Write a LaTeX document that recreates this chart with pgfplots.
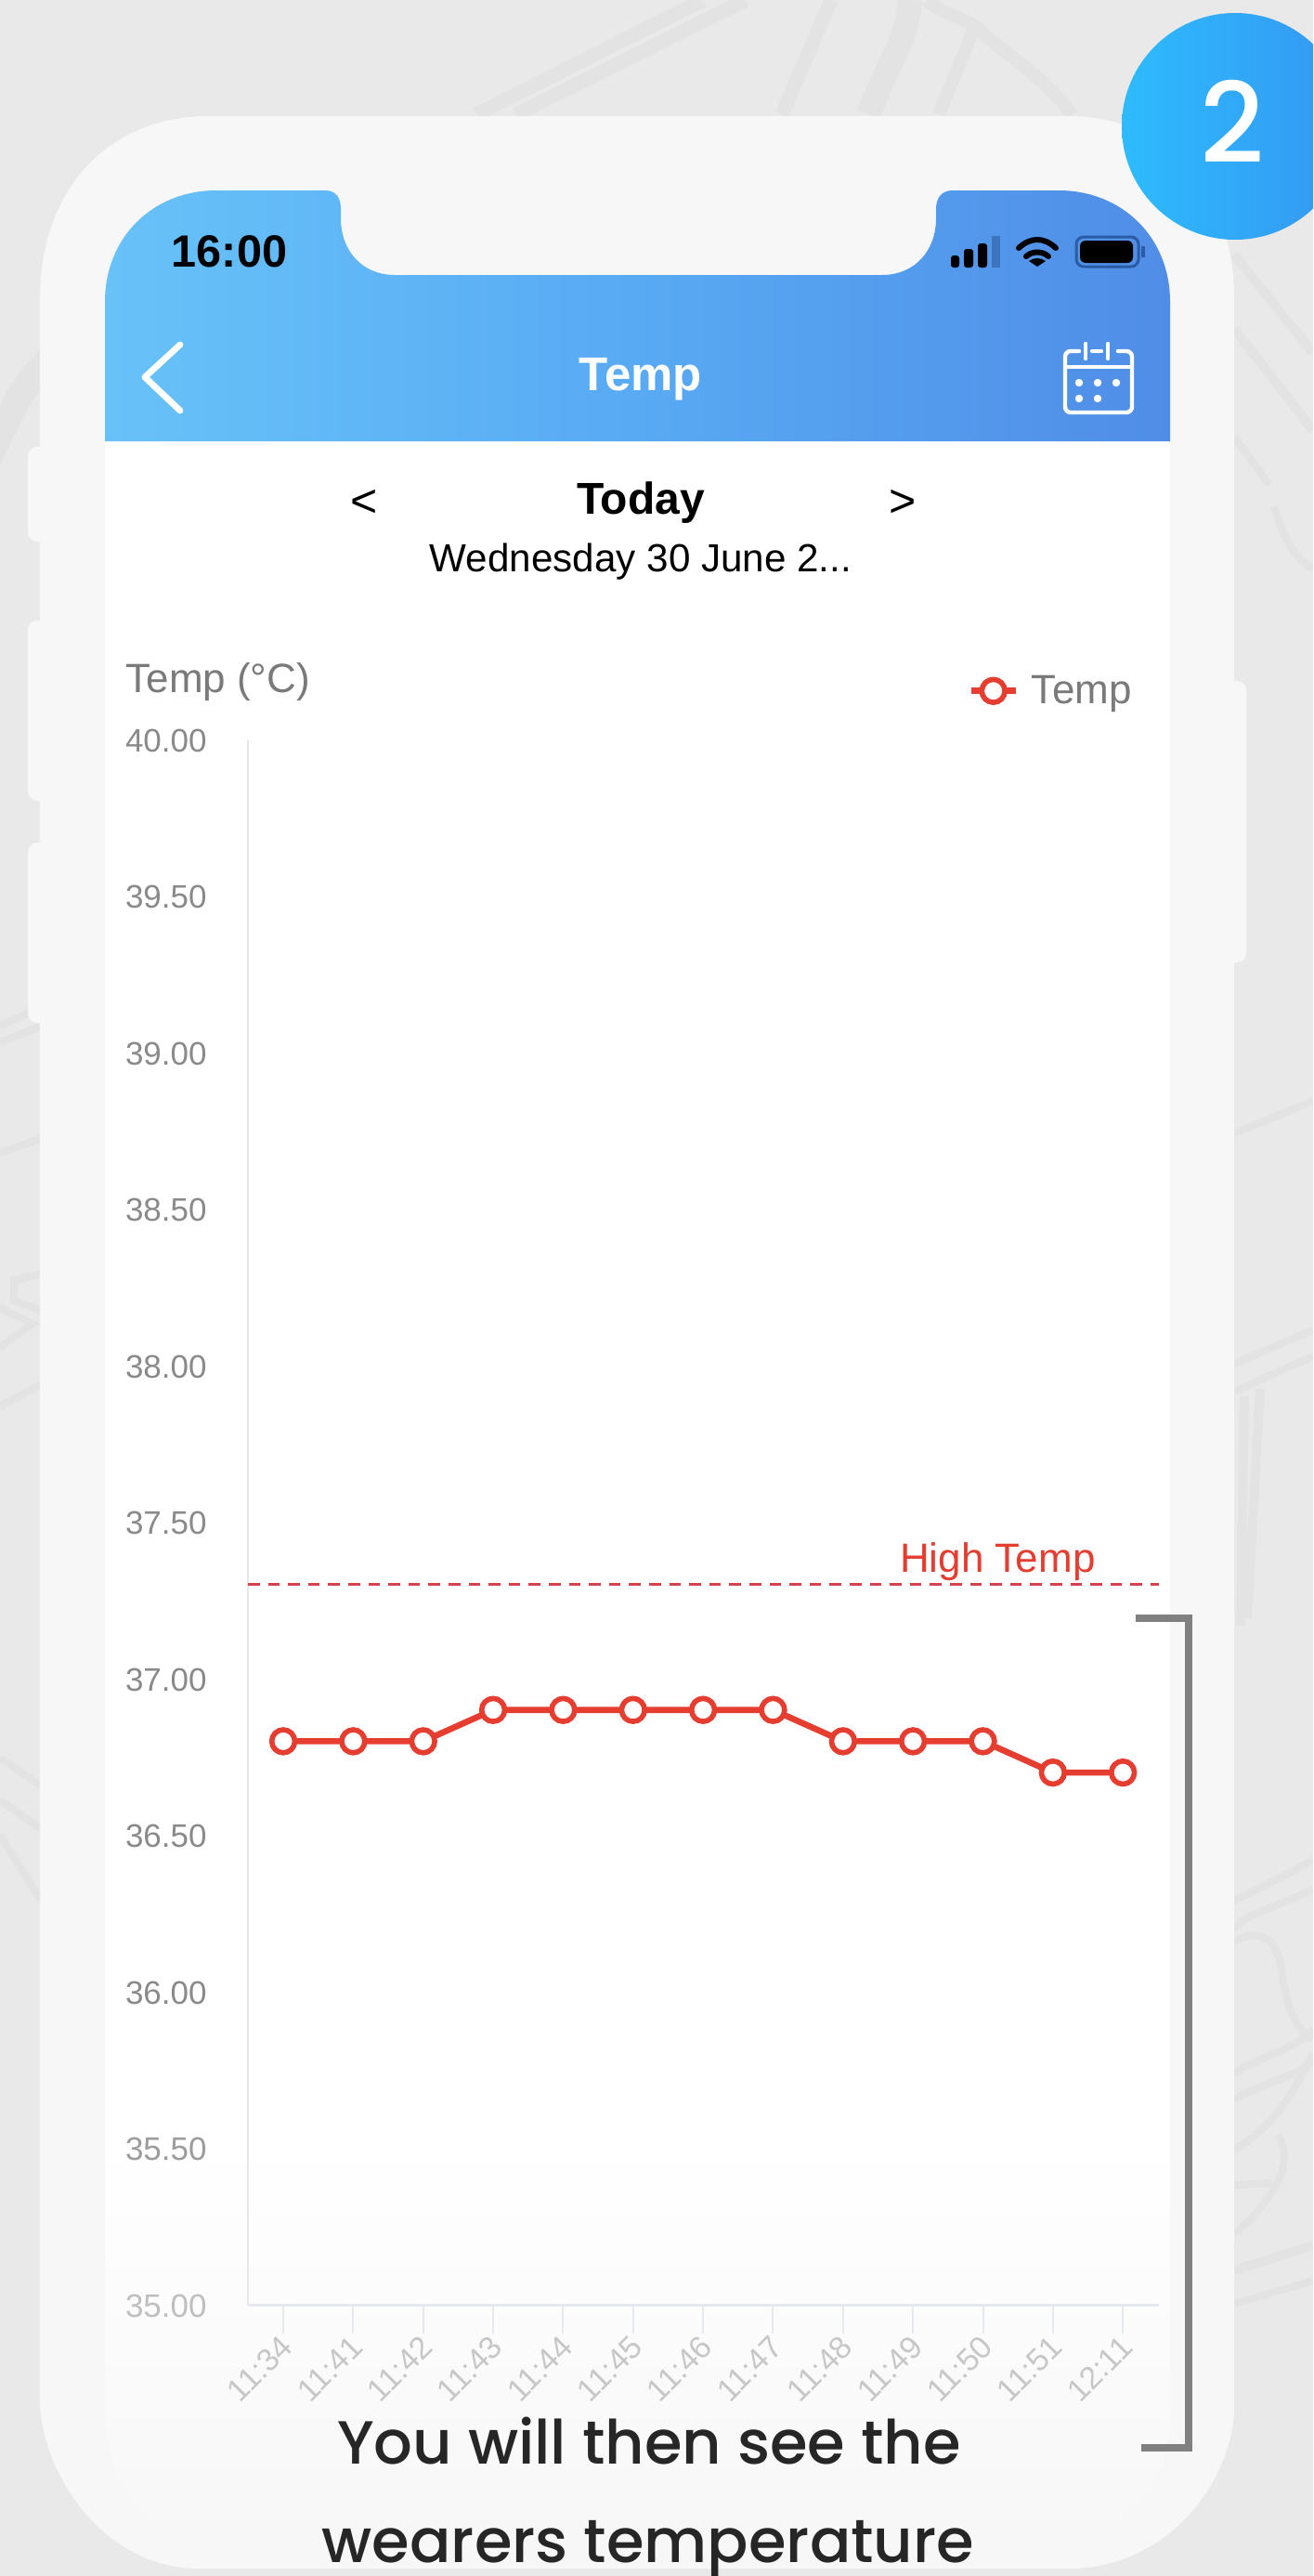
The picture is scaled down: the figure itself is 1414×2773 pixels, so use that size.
\documentclass[border=0pt]{standalone}
\usepackage{fontspec}
\setmainfont{Liberation Sans}
\newfontfamily\pop{Poppins Medium}
\usepackage{pgfplots}
\pgfplotsset{compat=1.18}
\definecolor{bg}{HTML}{E9E9E9}
\definecolor{sk}{HTML}{E3E3E3}
\definecolor{ph}{HTML}{F7F7F7}
\definecolor{rd}{HTML}{E53D30}
\definecolor{tk}{HTML}{E7E9F1}
\definecolor{lb}{HTML}{8A8A8A}
\definecolor{hl}{HTML}{68C2F8}
\definecolor{hm}{HTML}{58AAF3}
\definecolor{hr}{HTML}{508DE7}
\definecolor{bl}{HTML}{2EBBFD}
\definecolor{br}{HTML}{3497F2}
\definecolor{sf}{HTML}{3E74BE}
\definecolor{bt}{HTML}{2A5CA5}
\definecolor{dl}{HTML}{D5424E}
\newcommand{\fs}[1]{\fontsize{#1}{#1}\selectfont}
\begin{document}
\begin{tikzpicture}[x=0.5pt,y=-0.5pt]
\useasboundingbox (0,0) rectangle (1414,2773);
\clip (0,0) rectangle (1414,2773);
\fill[bg] (0,0) rectangle (1414,2773);
% sketch behind the phone
\begin{scope}[sk,line width=4pt]
\draw[line width=7.5pt] (513,123)--(757,0);\draw[line width=7.5pt] (556,123)--(803,0);
\draw[line width=7.5pt] (842,123)--(895,0);
\draw[line width=13pt] (935,123) .. controls (960,60) and (978,40) .. (980,0);
\draw[line width=7pt] (998,0) .. controls (1020,20) and (1040,15) .. (1063,40) .. controls (1100,70) and (1130,90) .. (1155,124);
\draw[line width=7pt] (1011,123)--(1048,33);
\fill (43,377) .. controls (20,400) and (5,420) .. (0,440) -- (0,487) .. controls (10,465) and (30,440) .. (43,420) -- cycle;
\fill (0,460) .. controls (20,440) and (40,420) .. (43,400) -- (43,410) .. controls (30,440) and (10,480) .. (0,500) -- cycle;
\draw[line width=5pt] (1329,274)--(1414,380);\draw[line width=5pt] (1329,354)--(1414,463);
\draw (1329,470)--(1367,522);\draw (1372,545) .. controls (1385,590) and (1400,605) .. (1414,612);
\draw (0,1104)--(43,1085);\draw (0,1122)--(43,1105);\draw (0,1241)--(43,1226);
\draw (43,1372)--(15,1378)--(15,1400)--(43,1410);\draw (0,1408)--(35,1425)--(0,1450);
\draw (0,1514)--(43,1491);
\draw (0,1892)--(43,1922);\draw (0,1938)--(43,1968);\draw (0,1976)--(43,2044);
\draw (1329,1220)--(1414,1185);\draw (1329,1468)--(1414,1432);\draw (1329,1498)--(1414,1460);
\draw[line width=5pt] (1340,1503)--(1336,1750);\draw[line width=5pt] (1357,1495)--(1343,1742);
\draw (1329,2046)--(1385,2018)--(1414,2002);
\draw (1329,2076)--(1342,2065)--(1414,2034);
\draw (1329,2090) .. controls (1350,2078) and (1372,2080) .. (1379,2114) .. controls (1385,2160) and (1395,2185) .. (1414,2195);
\draw (1329,2233) .. controls (1342,2218) and (1390,2210) .. (1414,2185);
\draw (1329,2260) .. controls (1362,2241) and (1399,2235) .. (1414,2218);
\draw (1329,2314) .. controls (1372,2290) and (1395,2250) .. (1414,2210);
\draw (1376,2298) .. controls (1395,2329) and (1372,2360) .. (1346,2390) -- (1329,2405);
\draw (1329,2352)--(1369,2350);
\draw[line width=5pt] (1329,2444)--(1414,2417);
\draw (1329,2480)--(1414,2455);
\end{scope}
% phone body and buttons
\begin{scope}[ph]
\fill[rounded corners=5pt] (30,481) rectangle (60,583);
\fill[rounded corners=5pt] (30,668) rectangle (60,862);
\fill[rounded corners=5pt] (30,907) rectangle (60,1101);
\fill[rounded corners=5pt] (1310,733) rectangle (1342,1036);
\fill (43,320) .. controls (43,212) and (110,125) .. (225,125) -- (1150,125)
 .. controls (1262,125) and (1329,212) .. (1329,320) -- (1329,2590)
 .. controls (1329,2665) and (1262,2765) .. (1150,2765) -- (215,2765)
 .. controls (110,2765) and (43,2660) .. (43,2582) -- cycle;
\end{scope}
% screen
\fill[white] (113,470) rectangle (1260,2300);
\shade[top color=white,bottom color=ph] (113,2300) -- (1260,2300) -- (1260,2600) .. controls (1260,2680) and (1200,2740) .. (1120,2740) -- (250,2740) .. controls (170,2740) and (113,2680) .. (113,2600) -- cycle;
\shade[left color=hl,right color=hr,middle color=hm]
 (113,475) -- (113,325) .. controls (113,255) and (165,205) .. (233,205) -- (350,205)
 .. controls (362,205) and (367,213) .. (367,225) -- (367,235) .. controls (367,270) and (390,296) .. (425,296)
 -- (950,296) .. controls (985,296) and (1008,270) .. (1008,235) -- (1008,225)
 .. controls (1008,213) and (1014,205) .. (1026,205) -- (1140,205)
 .. controls (1208,205) and (1260,255) .. (1260,325) -- (1260,475) -- cycle;
% status bar
\node[black,font=\bfseries\fs{24.3}] at (247,271) {16:00};
\fill[black,rounded corners=1.5pt] (1024,275) rectangle (1033,288);
\fill[black,rounded corners=1.5pt] (1038,268) rectangle (1048,288);
\fill[black,rounded corners=1.5pt] (1053,262) rectangle (1063,288);
\fill[sf] (1068,254) rectangle (1077,288);
\draw[black,line width=3pt,line cap=round] (1097,267) .. controls (1110,255) and (1124,255) .. (1137,267);
\draw[black,line width=3pt,line cap=round] (1105,276) .. controls (1112,270) and (1122,270) .. (1129,276);
\fill[black] (1117,287) -- (1108,281) .. controls (1113,277) and (1121,277) .. (1126,281) -- cycle;
\draw[bt,line width=1.5pt,rounded corners=4pt] (1159,255) rectangle (1226,287);
\fill[black,rounded corners=3pt] (1163,259) rectangle (1220,283);
\fill[bt] (1229,265) rectangle (1233,277);
% header
\draw[white,line width=3.4pt,line cap=round,line join=round] (194,371)--(156,406)--(194,442);
\node[white,font=\bfseries\fs{25.5}] at (690,408) {Temp};
\begin{scope}[white,line width=2.2pt,line cap=round]
\draw[rounded corners=3pt] (1162,378)--(1147,378)--(1147,444)--(1219,444)--(1219,378)--(1204,378);
\draw (1147,395)--(1219,395);\draw (1176,378)--(1186,378);
\draw (1169,370)--(1169,386);\draw (1193,370)--(1193,386);
\foreach \p in {(1162,412),(1182,412),(1202,412),(1162,429),(1182,429)} \fill \p circle (4.2);
\end{scope}
% date selector
\node[black,font=\fs{25}] at (392,542) {<};
\node[black,font=\fs{25}] at (972,542) {>};
\node[black,font=\bfseries\fs{24}] at (690,541) {Today};
\node[black,font=\fs{21.1}] at (690,605) {Wednesday 30 June 2...};
% badge
\shade[left color=bl,right color=br] (1330,136) circle (122);
\node[white,font=\pop\fs{60}] at (1327,131) {2};
% chart
\begin{axis}[at={(133.5pt,-1240.5pt)},anchor=south west,scale only axis,
 width=490.5pt,height=842.5pt,
 xmin=-0.505,xmax=12.515,ymin=35,ymax=40,
 axis x line=bottom,axis y line=left,
 x axis line style={-,draw=tk,line width=1.5pt},
 y axis line style={-,draw=black!9,line width=0.8pt},
 clip=false,
 xtick={0,...,12},
 xticklabels={11:34,11:41,11:42,11:43,11:44,11:45,11:46,11:47,11:48,11:49,11:50,11:51,12:11},
 ytick={35,35.5,36,36.5,37,37.5,38,38.5,39,39.5,40},
 yticklabels={\textcolor{lb!55}{35.00},\textcolor{lb!85}{35.50},36.00,36.50,37.00,37.50,38.00,38.50,39.00,39.50,40.00},
 tick align=outside,
 xtick style={draw=tk,line width=1pt},
 major tick length=15.5pt,
 ytick style={draw=none},
 y tick label style={font=\fs{17.5},text=lb,inner sep=0pt,anchor=east,xshift=-6.5pt,yshift=-0.5pt},
 x tick label style={font=\fs{17},text=black!22,inner sep=0pt,rotate=45,anchor=east,xshift=-1.5pt,yshift=-4.5pt},
 ylabel={Temp (°C)},
 y label style={font=\fs{22},text=black!52,rotate=-90,inner sep=0pt,anchor=west,at={(axis description cs:-0.1344,1.037)}},
 legend style={at={(axis description cs:0.97,1.031)},anchor=east,draw=none,fill=none,font=\fs{22},text=black!52,inner sep=0pt,outer sep=0pt,nodes={inner sep=0pt}},
 legend cell align=left,
 legend image code/.code={\draw[mark repeat=2,mark phase=2,#1] plot coordinates {(0pt,0pt)(12pt,0pt)(24pt,0pt)};},
]
\addplot[forget plot,draw=dl,line width=1.5pt,dash pattern=on 6.3pt off 4.5pt]
 coordinates {(-0.505,37.3)(12.515,37.3)}
 node[pos=0.823,above,font=\fs{22},text=rd,inner sep=1pt,yshift=0.5pt]{High Temp};
\addplot[rd,line width=3.3pt,mark=*,mark size=6.2pt,mark options={draw=rd,fill=white,line width=2.8pt}]
 coordinates {(0,36.8)(1,36.8)(2,36.8)(3,36.9)(4,36.9)(5,36.9)(6,36.9)(7,36.9)(8,36.8)(9,36.8)(10,36.8)(11,36.7)(12,36.7)};
\addlegendentry{\hspace{7pt}Temp}
\end{axis}
% bracket
\draw[black!50,line width=4pt] (1223,1742)--(1280,1742)--(1280,2635)--(1229,2635);
% caption
\node[anchor=base,font=\pop\fs{32.8},text=black!85] at (699,2652) {You will then see the};
\node[anchor=base,font=\pop\fs{32.8},text=black!85] at (698,2758) {wearers temperature};
\end{tikzpicture}
\end{document}
